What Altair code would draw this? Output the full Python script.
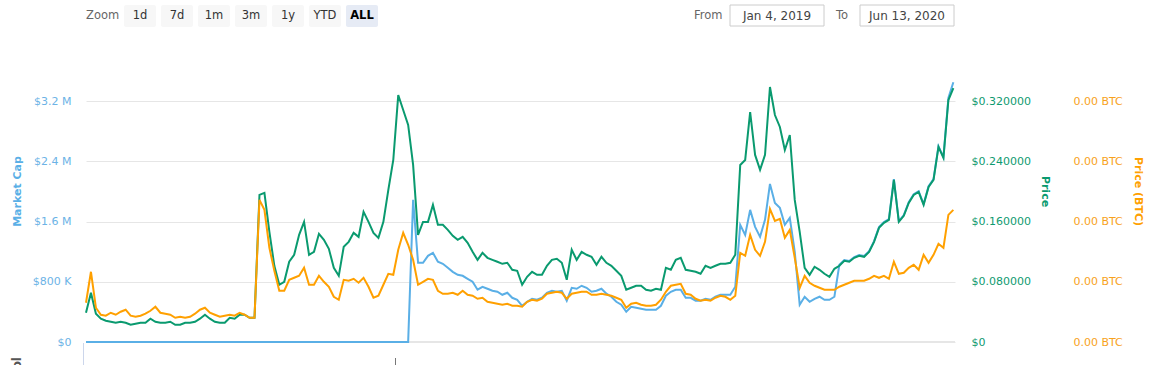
import altair as alt
import pandas as pd

# ---------------- data ----------------
# one sample every 3 days from Jan 4, 2019
price_usd = [
    0.0389, 0.0654, 0.0375, 0.0309, 0.0282, 0.0269, 0.0256, 0.0269, 0.0256, 0.0229,
    0.0243, 0.0256, 0.0256, 0.0309, 0.0269, 0.0256, 0.0256, 0.0269, 0.0229, 0.0229,
    0.0256, 0.0256, 0.0269, 0.0309, 0.0362, 0.0309, 0.0269, 0.0256, 0.0256, 0.0322,
    0.0309, 0.0362, 0.0362, 0.0322, 0.0322, 0.1953, 0.1980, 0.1463, 0.1012, 0.0760,
    0.0800, 0.1065, 0.1158, 0.1423, 0.1595, 0.1158, 0.1197, 0.1436, 0.1357, 0.1237,
    0.0985, 0.0879, 0.1264, 0.1330, 0.1449, 0.1396, 0.1728, 0.1595, 0.1449, 0.1383,
    0.1595, 0.2020, 0.2417, 0.3279, 0.3081, 0.2882, 0.2351, 0.1423, 0.1595, 0.1595,
    0.1821, 0.1556, 0.1556, 0.1489, 0.1410, 0.1357, 0.1396, 0.1317, 0.1197, 0.1091,
    0.1184, 0.1118, 0.1091, 0.1065, 0.1038, 0.1052, 0.0959, 0.0946, 0.0760, 0.0866,
    0.0932, 0.0892, 0.0892, 0.1012, 0.1091, 0.1105, 0.1052, 0.0826, 0.1224, 0.1091,
    0.1197, 0.1158, 0.1131, 0.1025, 0.1131, 0.1052, 0.1012, 0.0946, 0.0879, 0.0694,
    0.0720, 0.0747, 0.0747, 0.0694, 0.0680, 0.0707, 0.0694, 0.0985, 0.0959, 0.1091,
    0.1118, 0.0959, 0.0946, 0.0932, 0.0906, 0.1012, 0.0985, 0.1012, 0.1038, 0.1038,
    0.1052, 0.1158, 0.2351, 0.2417, 0.3054, 0.2484, 0.2285, 0.2484, 0.3386, 0.3014,
    0.2855, 0.2550, 0.2749, 0.1887, 0.1463, 0.0985, 0.0892, 0.0999, 0.0959, 0.0906,
    0.0866, 0.0972, 0.1012, 0.1078, 0.1065, 0.1118, 0.1144, 0.1131, 0.1197, 0.1330,
    0.1516, 0.1582, 0.1622, 0.2152, 0.1595, 0.1675, 0.1847, 0.1953, 0.1993, 0.1821,
    0.2059, 0.2152, 0.2590, 0.2444, 0.3213, 0.3372,
]

mcap_musd = [0.0] * 66 + [
    1.887, 1.052, 1.052, 1.144, 1.184, 1.065, 1.038, 0.985, 0.932, 0.892, 0.879, 0.839, 0.800, 0.694,
    0.733, 0.707, 0.680, 0.667, 0.627, 0.654, 0.587, 0.561, 0.481, 0.534,
    0.574, 0.561, 0.587, 0.654, 0.680, 0.667, 0.680, 0.548, 0.720, 0.707,
    0.747, 0.720, 0.667, 0.680, 0.707, 0.641, 0.601, 0.534, 0.495, 0.402,
    0.468, 0.455, 0.442, 0.428, 0.428, 0.428, 0.481, 0.614, 0.667, 0.694,
    0.694, 0.587, 0.587, 0.548, 0.548, 0.574, 0.561, 0.601, 0.627, 0.627,
    0.627, 0.733, 1.556, 1.423, 1.754, 1.529, 1.396, 1.622, 2.099, 1.847,
    1.781, 1.556, 1.648, 1.197, 0.495, 0.601, 0.534, 0.574, 0.601, 0.561,
    0.561, 0.601, 1.025, 1.088, 1.075, 1.128, 1.154, 1.141, 1.207, 1.340,
    1.526, 1.592, 1.632, 2.162, 1.605, 1.685, 1.857, 1.963, 2.003, 1.831,
    2.069, 2.162, 2.600, 2.454, 3.240, 3.450,
]

price_ubtc = [
    10.42, 18.65, 9.10, 7.24, 6.98, 7.77, 7.24, 8.04, 8.57, 6.98,
    6.71, 6.98, 7.51, 8.30, 9.36, 7.77, 7.51, 7.24, 6.44, 6.71,
    6.44, 6.71, 7.51, 8.57, 9.10, 7.77, 7.24, 6.71, 6.98, 7.24,
    6.98, 7.77, 7.24, 6.44, 6.44, 37.74, 35.09, 25.01, 18.91, 13.61,
    13.61, 16.52, 17.05, 17.58, 19.71, 15.20, 15.20, 17.58, 15.99, 14.67,
    12.01, 11.22, 16.52, 16.26, 16.79, 15.73, 17.05, 14.67, 11.75, 12.28,
    15.20, 18.11, 17.85, 24.48, 28.99, 25.81, 21.83, 15.20, 15.99, 16.79,
    16.52, 13.61, 12.81, 12.81, 13.08, 12.54, 13.61, 12.54, 12.28, 11.48,
    11.75, 10.69, 10.42, 10.16, 9.89, 10.16, 9.63, 9.63, 9.36, 10.69,
    11.22, 10.95, 11.48, 12.81, 13.08, 13.34, 13.08, 11.48, 12.81, 13.08,
    13.34, 13.34, 12.54, 12.54, 12.81, 12.54, 12.28, 11.75, 11.22, 9.10,
    10.16, 10.42, 9.89, 9.63, 9.63, 9.89, 11.22, 13.34, 14.93, 15.20,
    15.46, 12.81, 12.54, 11.48, 10.95, 11.22, 10.95, 11.75, 12.28, 12.01,
    11.22, 12.28, 23.68, 22.89, 28.46, 24.48, 22.89, 26.60, 35.35, 32.17,
    32.70, 27.66, 29.78, 22.36, 14.40, 17.58, 15.73, 14.93, 14.40, 13.87,
    13.87, 13.87, 14.67, 15.20, 15.73, 16.26, 16.26, 16.26, 16.79, 17.58,
    17.05, 17.58, 16.79, 21.30, 18.11, 18.38, 19.71, 20.50, 19.18, 23.15,
    21.03, 23.15, 26.07, 25.01, 33.76, 35.09,
]

mcap_ticks = [0, 800000, 1600000, 2400000, 3200000]
price_ticks = [0, 0.08, 0.16, 0.24, 0.32]
btc_ticks = [0, 0.000016, 0.000032, 0.000048, 0.000064]
zoom_buttons = ["1d", "7d", "1m", "3m", "1y", "YTD", "ALL"]
date_from = "Jan 4, 2019"
date_to = "Jun 13, 2020"

dates = pd.date_range("2019-01-04", periods=len(price_usd), freq="3D")
df = pd.DataFrame({
    "date": dates,
    "mcap": [v * 1e6 for v in mcap_musd],
    "price": price_usd,
    "btc": [v * 1e-6 for v in price_ubtc],
})

# ---------------- style ----------------
FONT = "DejaVu Sans"
BLUE = "#5aafe6"
BLUE_TXT = "#6cb3e6"
GREEN = "#0a9a6f"
GREEN_TXT = "#0f9a70"
ORANGE = "#ffa000"
ORANGE_TXT = "#f8a21c"
GRID = "#e6e6e6"

W, H = 869, 302

xenc = alt.X(
    "date:T",
    scale=alt.Scale(domain=[alt.DateTime(year=2019, month=1, date=4),
                            alt.DateTime(year=2020, month=6, date=13)]),
    axis=None,
)

base = alt.Chart(df).encode(x=xenc)

blue = base.mark_line(color=BLUE, strokeWidth=2).encode(
    y=alt.Y("mcap:Q",
            scale=alt.Scale(domain=[0, 4.01e6], nice=False, zero=True),
            axis=alt.Axis(orient="left", values=mcap_ticks,
                          labelExpr="datum.value == 0 ? '$0' : (datum.value < 1000000 ? '$' + format(datum.value/1000, 'd') + ' K' : '$' + format(datum.value/1000000, '.1f') + ' M')",
                          grid=True, gridColor=GRID, gridWidth=1,
                          domain=False, ticks=False, labelPadding=15,
                          labelColor=BLUE_TXT, labelFont=FONT, labelFontSize=11,
                          title="Market Cap", titleColor=BLUE, titleFont=FONT,
                          titleFontSize=11, titleFontWeight="bold",
                          titleAngle=270, titleX=-69, titleY=151,
                          titleAlign="center", titleBaseline="middle"))
)

green = base.mark_line(color=GREEN, strokeWidth=2).encode(
    y=alt.Y("price:Q",
            scale=alt.Scale(domain=[0, 0.401], nice=False, zero=True),
            axis=alt.Axis(orient="right", values=price_ticks,
                          labelExpr="datum.value == 0 ? '$0' : '$' + format(datum.value, '.6f')",
                          grid=False, domain=False, ticks=False, labelPadding=16,
                          labelColor=GREEN_TXT, labelFont=FONT, labelFontSize=11,
                          title="Price", titleColor=GREEN, titleFont=FONT,
                          titleFontSize=11, titleFontWeight="bold",
                          titleAngle=90, titleX=89, titleY=151,
                          titleAlign="center", titleBaseline="middle"))
)

orange = base.mark_line(color=ORANGE, strokeWidth=2).encode(
    y=alt.Y("btc:Q",
            scale=alt.Scale(domain=[0, 0.0000802], nice=False, zero=True),
            axis=alt.Axis(orient="right", values=btc_ticks, offset=102,
                          labelExpr="format(datum.value, '.2f') + ' BTC'",
                          grid=False, domain=False, ticks=False, labelPadding=16,
                          labelColor=ORANGE_TXT, labelFont=FONT, labelFontSize=11,
                          title="Price (BTC)", titleColor=ORANGE, titleFont=FONT,
                          titleFontSize=11, titleFontWeight="bold",
                          titleAngle=90, titleX=80, titleY=151,
                          titleAlign="center", titleBaseline="middle"))
)

one = pd.DataFrame({"k": [0]})


def text(s, x, y, **kw):
    return alt.Chart(one).mark_text(text=s, font=FONT, **kw).encode(
        x=alt.value(x), y=alt.value(y))


def box(x1, x2, y1, y2, **kw):
    return alt.Chart(one).mark_rect(**kw).encode(
        x=alt.value(x1), x2=alt.value(x2), y=alt.value(y1), y2=alt.value(y2))


decor = []
# baseline at $0
decor.append(alt.Chart(one).mark_rule(color=GRID, strokeWidth=2).encode(
    x=alt.value(0), x2=alt.value(W), y=alt.value(H)))

top = []
top.append(text("Zoom", 0, -24.5, align="left", baseline="middle", fontSize=11.5, color="#666666"))
for i, lab in enumerate(zoom_buttons):
    x1 = 38 + 37 * i
    sel = lab == "ALL"
    top.append(box(x1, x1 + 32, -35, -13, fill="#e6ebf5" if sel else "#f7f7f7", cornerRadius=2))
    top.append(text(lab, x1 + 16, -24, align="center", baseline="middle", fontSize=11.5,
                    color="#000000" if sel else "#333333",
                    fontWeight="bold" if sel else "normal"))
top.append(text("From", 608, -24.5, align="left", baseline="middle", fontSize=11.5, color="#666666"))
top.append(box(644, 738, -35, -14, fill="white", stroke="#cccccc", strokeWidth=1))
top.append(text(date_from, 691, -24.5, align="center", baseline="middle", fontSize=12, color="#444444"))
top.append(text("To", 750, -24.5, align="left", baseline="middle", fontSize=11.5, color="#666666"))
top.append(box(774, 868, -35, -14, fill="white", stroke="#cccccc", strokeWidth=1))
top.append(text(date_to, 821, -24.5, align="center", baseline="middle", fontSize=12, color="#444444"))

bottom = []
bottom.append(alt.Chart(one).mark_rule(color="#ccd6eb", strokeWidth=1).encode(
    x=alt.value(-2.5), y=alt.value(H + 1), y2=alt.value(H + 23)))
bottom.append(alt.Chart(one).mark_rule(color="#777777", strokeWidth=1).encode(
    x=alt.value(309.5), y=alt.value(H + 16), y2=alt.value(H + 23)))
bottom.append(text("Vol", -69, H + 15, angle=270, align="right", baseline="middle",
                   fontSize=12, fontWeight="bold", color="#555555"))

chart = alt.layer(*decor, blue, green, orange, *top, *bottom).resolve_scale(
    y="independent"
).properties(
    width=W, height=H,
    autosize=alt.AutoSizeParams(type="none"),
    padding={"left": 86, "top": 40, "right": 194, "bottom": 23},
    background="white",
).configure_view(stroke=None)

chart.save("out.html", embed_options={"renderer": "svg", "actions": False})
